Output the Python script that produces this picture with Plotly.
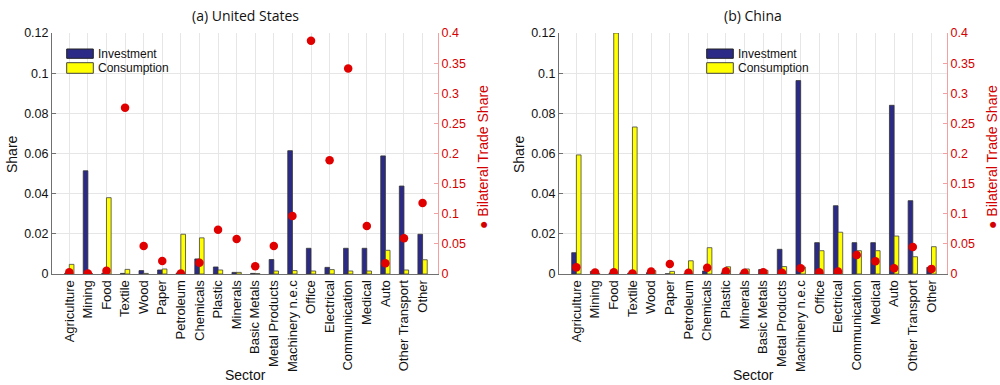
import plotly.graph_objects as go

sectors = ["Agriculture", "Mining", "Food", "Textile", "Wood", "Paper", "Petroleum",
           "Chemicals", "Plastic", "Minerals", "Basic Metals", "Metal Products",
           "Machinery n.e.c", "Office", "Electrical", "Communication", "Medical",
           "Auto", "Other Transport", "Other"]

us_investment = [0.0003, 0.0514, 0.0004, 0.0003, 0.0017, 0.0020, 0.0005, 0.0075, 0.0035, 0.0008,
                 0.0003, 0.0072, 0.0614, 0.0128, 0.0033, 0.0128, 0.0128, 0.0588, 0.0438, 0.0198]
us_consumption = [0.0048, 0.0003, 0.0380, 0.0023, 0.0003, 0.0025, 0.0198, 0.0180, 0.0020, 0.0008,
                  0.0002, 0.0015, 0.0017, 0.0015, 0.0022, 0.0015, 0.0015, 0.0118, 0.0020, 0.0071]
us_trade = [0.003, 0.001, 0.0055, 0.276, 0.0465, 0.0216, 0.001, 0.0188, 0.0736, 0.058,
            0.0127, 0.0465, 0.0963, 0.387, 0.1887, 0.341, 0.0797, 0.0177, 0.0592, 0.118]

cn_investment = [0.0106, 0.0013, 0.0005, 0.0005, 0.0007, 0.0001, 0.0001, 0.0015, 0.0006, 0.0006,
                 0.0022, 0.0123, 0.0963, 0.0156, 0.0340, 0.0156, 0.0156, 0.0840, 0.0365, 0.0033]
cn_consumption = [0.0593, 0.0003, 0.1200, 0.0732, 0.0017, 0.0013, 0.0066, 0.0131, 0.0036, 0.0025,
                  0.0018, 0.0037, 0.0035, 0.0116, 0.0208, 0.0116, 0.0116, 0.0189, 0.0086, 0.0136]
cn_trade = [0.011, 0.0025, 0.003, 0.001, 0.004, 0.0166, 0.002, 0.0105, 0.0045, 0.002,
            0.003, 0.002, 0.0095, 0.003, 0.004, 0.0315, 0.021, 0.0095, 0.0448, 0.0085]

panel_titles = ["(a) United States", "(b) China"]
legend_labels = ["Investment", "Consumption"]

NAVY = "#2b2b87"
YELLOW = "#ffff00"
RED = "#e00000"
FONT = "Liberation Sans, Arial, sans-serif"

fig = go.Figure()

panels = [
    (us_investment, us_consumption, us_trade, "x", "y", "y2"),
    (cn_investment, cn_consumption, cn_trade, "x2", "y3", "y4"),
]
for inv, con, trd, xa, ya, ya2 in panels:
    fig.add_trace(go.Bar(x=sectors, y=inv, xaxis=xa, yaxis=ya, name="Investment",
                         marker=dict(color=NAVY, line=dict(color="#333333", width=0.8)),
                         showlegend=False))
    fig.add_trace(go.Bar(x=sectors, y=con, xaxis=xa, yaxis=ya, name="Consumption",
                         marker=dict(color=YELLOW, line=dict(color="#444444", width=0.8)),
                         showlegend=False))
    fig.add_trace(go.Scatter(x=sectors, y=trd, xaxis=xa, yaxis=ya2, mode="markers",
                             name="Bilateral Trade Share",
                             marker=dict(color=RED, size=8.5), showlegend=False))

# pixel geometry helpers
L, R, T, B = 52, 53, 33, 111
W, H = 1000, 385
PW = W - L - R
PH = H - T - B


def px(x):
    return (x - L) / PW


def py(y):
    return (H - B - y) / PH


dom1 = [0, px(438)]
dom2 = [px(559), 1]

xcommon = dict(type="category", range=[-0.93, 19.83], tickangle=-90,
               showgrid=True, gridcolor="#e6e6e6", gridwidth=1,
               showline=True, linecolor="#707070", linewidth=1, ticks="",
               tickfont=dict(family=FONT, size=13, color="#111"), zeroline=False,
               automargin=False)
ycommon = dict(range=[0, 0.12], dtick=0.02, showgrid=True, gridcolor="#e6e6e6",
               showline=True, linecolor="#707070", linewidth=1, ticks="inside",
               ticklen=4, tickcolor="#707070", zeroline=False, automargin=False,
               tickfont=dict(family=FONT, size=12.5, color="#111"))
y2common = dict(range=[0, 0.4], dtick=0.05, side="right", showgrid=False,
                showline=True, linecolor="#f2a0a0", linewidth=1, ticks="inside",
                ticklen=4, tickcolor="#f2a0a0", zeroline=False, automargin=False,
                tickfont=dict(family=FONT, size=12.5, color="#d40000"))

fig.update_layout(
    width=W, height=H,
    margin=dict(l=L, r=R, t=T, b=B, autoexpand=False),
    plot_bgcolor="white", paper_bgcolor="white",
    barmode="group", bargap=0.5, bargroupgap=0,
    xaxis=dict(domain=dom1, anchor="y", **xcommon),
    yaxis=dict(anchor="x", **ycommon),
    yaxis2=dict(anchor="x", overlaying="y", **y2common),
    xaxis2=dict(domain=dom2, anchor="y3", **xcommon),
    yaxis3=dict(anchor="x2", **ycommon),
    yaxis4=dict(anchor="x2", overlaying="y3", **y2common),
    showlegend=False,
)

annotations = []
shapes = []
for i, (dom, leg_x) in enumerate([(dom1, 66.7), (dom2, 706.7)]):
    cx = (dom[0] + dom[1]) / 2
    annotations.append(dict(text=panel_titles[i], xref="paper", yref="paper",
                            x=cx, y=py(15), xanchor="center", yanchor="middle",
                            showarrow=False, font=dict(family="Open Sans, sans-serif", size=14, color="#111")))
    annotations.append(dict(text="Sector", xref="paper", yref="paper",
                            x=cx, y=py(375), xanchor="center", yanchor="middle",
                            showarrow=False, font=dict(family=FONT, size=14, color="#111")))
    left_px = L + dom[0] * PW
    right_px = L + dom[1] * PW
    annotations.append(dict(text="Share", xref="paper", yref="paper",
                            x=px(left_px - 40), y=py(154), xanchor="center", yanchor="middle",
                            textangle=-90, showarrow=False,
                            font=dict(family=FONT, size=14, color="#111")))
    annotations.append(dict(text="\u25CF Bilateral Trade Share", xref="paper", yref="paper",
                            x=px(right_px + 45), y=py(157), xanchor="center", yanchor="middle",
                            textangle=-90, showarrow=False,
                            font=dict(family=FONT, size=14, color="#d40000")))
    # legend patches
    for j, (col, edge, y0, y1) in enumerate([(NAVY, "#222", 49, 58.3), (YELLOW, "#444", 62.7, 73.3)]):
        shapes.append(dict(type="rect", xref="paper", yref="paper",
                           x0=px(leg_x), x1=px(leg_x + 26.6), y0=py(y1), y1=py(y0),
                           fillcolor=col, line=dict(color=edge, width=1)))
        annotations.append(dict(text=legend_labels[j], xref="paper", yref="paper",
                                x=px(leg_x + 29.5), y=py((y0 + y1) / 2), xanchor="left",
                                yanchor="middle", showarrow=False,
                                font=dict(family=FONT, size=12, color="#111")))

fig.update_layout(annotations=annotations, shapes=shapes)

fig.write_html("out.html", config={"displayModeBar": False},
               post_script="document.body.style.margin='0';document.body.style.overflow='hidden';")
